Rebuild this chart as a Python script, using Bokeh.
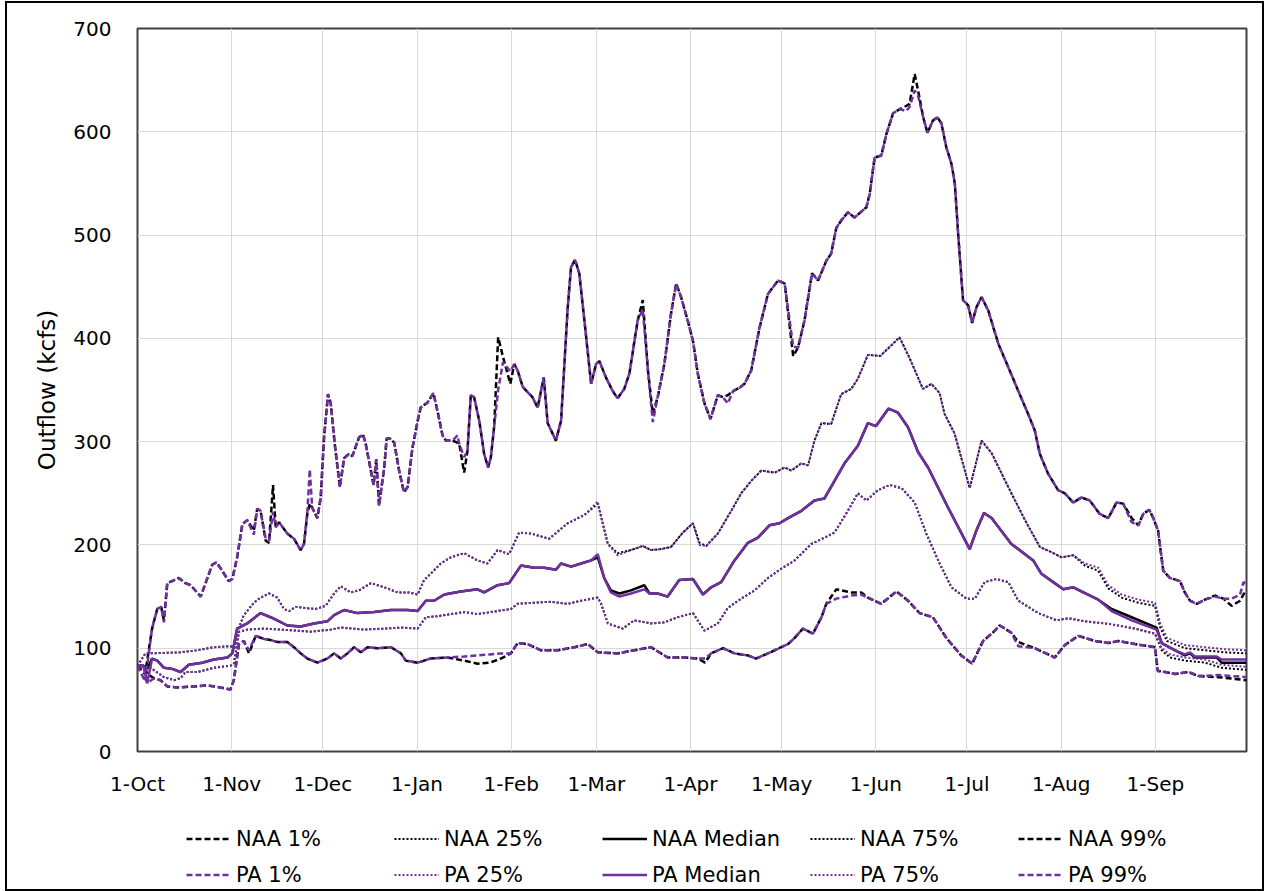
from bokeh.plotting import figure
from bokeh.layouts import column
from bokeh.models import Range1d, FixedTicker, Legend, LegendItem
from bokeh.embed import file_html
from bokeh.resources import INLINE

# ---------------- data (day index from 1-Oct, outflow in kcfs) ----------------
month_ticks = [0, 31, 61, 92, 123, 151, 182, 212, 243, 273, 304, 335]
month_labels = ["1-Oct", "1-Nov", "1-Dec", "1-Jan", "1-Feb", "1-Mar",
                "1-Apr", "1-May", "1-Jun", "1-Jul", "1-Aug", "1-Sep"]
y_ticks = [0, 100, 200, 300, 400, 500, 600, 700]

# 99% (upper envelope)
hi_days = [0, 2.5, 4.8, 6.5, 7.8, 8.7, 9.8, 11.4, 13.6, 15.8, 17.5, 20.8, 22.4, 24.6, 26, 27.9,
           30, 31.2, 32.8, 34.5, 36.1, 38.3, 39.4, 40.5, 42.2, 43.3, 44.6, 45.5, 46.6, 49.3, 51.5,
           53.7, 54.8, 55.9, 56.7, 57.5, 59.2, 60.3, 61.4, 62.7, 63.6, 64.9, 66.6, 68, 69.6, 70.7,
           72.9, 74.2, 75.1, 77.7, 78.6, 79.5, 81.2, 82, 83.1, 84.5, 86.1, 87.7, 88.9, 90.5, 92.2,
           93.2, 95.5, 97.4, 98.7, 100.4, 101.5, 103.7, 105.3, 105.9, 107.5, 108.6, 109.7, 110.8,
           112.5, 114.1, 115.4, 116.3, 117.4, 118.7, 120.3, 122.7, 124, 125.1, 126.8, 128.4, 130,
           131.7, 133.7, 135, 137.7, 139.4, 141.6, 142.7, 144, 145.4, 147.1, 149.3, 150.9, 152,
           154.2, 156.4, 158, 160.2, 161.9, 164.6, 166.3, 168, 169.6, 171.2, 173.4, 175.6, 177.3,
           178.9, 181.1, 182.8, 184.4, 186.6, 188.6, 191, 192.7, 194.3, 196, 198.1, 199.8, 202,
           204.7, 207.5, 210.8, 213, 215.8, 217.4, 219.5, 222, 224, 226.7, 228.3, 230, 231.6,
           233.8, 236, 239.9, 241, 242.6, 244.8, 246.5, 248.7, 250.9, 253, 254.1, 255.8, 256.9,
           258.6, 260, 261.8, 263.3, 264.6, 266.2, 267.9, 269, 270.1, 271.7, 273.4, 274.7, 276.1,
           277.8, 280, 283.3, 286.6, 289.9, 293.1, 295.3, 297, 299.7, 303, 305.2, 308, 310.7,
           313.4, 316.7, 319.5, 322.2, 324.4, 327.2, 329.4, 331, 333, 334.3, 335.9, 337.6, 339.8,
           343.1, 344.7, 346.4, 348.6, 351.3, 354.6, 357.4, 360.1, 362.9, 364, 365]
naa_99 = [83, 75, 119, 138, 140, 127, 163, 165, 168, 163, 161, 150, 163, 181, 183, 175,
          165, 167, 188, 220, 224, 214, 235, 233, 204, 202, 258, 217, 222, 211, 206,
          195, 201, 230, 240, 236, 226, 246, 304, 346, 337, 298, 256, 284, 288, 286,
          304, 307, 298, 258, 283, 238, 275, 303, 303, 299, 272, 251, 256, 294, 320,
          333, 338, 347, 330, 306, 301, 301, 299, 298, 270, 291, 345, 343,
          320, 288, 275, 285, 315, 401, 382, 356, 375, 369, 353, 348, 343,
          333, 362, 318, 301, 320, 430, 469, 476, 463, 417, 356, 375, 378,
          362, 349, 342, 351, 366, 417, 437, 369, 327, 343, 375, 424, 453,
          440, 417, 398, 366, 337, 322, 345, 343, 345, 349, 352, 356, 369,
          410, 443, 456, 453, 383, 391, 417, 463, 456, 475, 482, 507, 514,
          522, 517, 527, 540, 575, 577, 598, 618, 622, 625, 627, 656, 640,
          614, 599, 611, 614, 608, 585, 569, 550, 501, 437, 432, 415, 430,
          440, 427, 395, 372, 349, 327, 311, 288, 269, 253, 250, 241, 246,
          243, 230, 226, 241, 240, 226, 219, 230, 234, 226, 214, 175, 168,
          165, 154, 146, 143, 147, 151, 148, 141, 146, 152, 156]
pa_99 = [83, 68, 119, 138, 140, 125, 163, 165, 168, 163, 161, 150, 163, 181, 183, 175,
         165, 167, 188, 220, 224, 210, 235, 233, 206, 204, 232, 217, 222, 211, 206,
         195, 201, 232, 273, 236, 226, 246, 304, 346, 337, 298, 256, 284, 288, 286,
         304, 307, 298, 258, 283, 238, 275, 303, 303, 299, 272, 251, 256, 294, 320,
         333, 338, 347, 330, 306, 301, 301, 306, 298, 285, 291, 345, 343,
         320, 288, 275, 285, 315, 350, 377, 368, 375, 369, 353, 348, 343,
         333, 362, 318, 301, 320, 430, 469, 476, 463, 417, 356, 375, 378,
         362, 349, 342, 351, 366, 417, 428, 369, 319, 343, 375, 424, 453,
         440, 417, 398, 366, 337, 322, 345, 343, 337, 349, 352, 356, 369,
         410, 443, 456, 453, 392, 391, 417, 463, 456, 475, 482, 507, 514,
         522, 517, 527, 540, 575, 577, 598, 618, 622, 620, 624, 640, 635,
         614, 599, 611, 614, 608, 585, 569, 550, 501, 437, 432, 415, 430,
         440, 427, 395, 372, 349, 327, 311, 288, 269, 253, 250, 241, 246,
         243, 230, 226, 241, 240, 222, 219, 230, 234, 226, 214, 175, 168,
         165, 154, 146, 143, 147, 150, 148, 148, 152, 164, 162]

# 75%
p75_days = [0, 2.6, 4.3, 14.2, 19.7, 25.1, 30.6, 31.7, 33.4, 35, 38.3, 40.5, 43.3, 46, 48.2,
            49.9, 52.1, 54.8, 58.6, 61.9, 64.7, 66.9, 70.2, 72.9, 76.8, 81.2, 85.6, 89.4, 92.2,
            94.3, 96.5, 99.8, 103.1, 107.5, 111.9, 115.2, 118.5, 122.3, 125.6, 129.5, 135.5,
            141.6, 147.1, 151.5, 152.6, 154.8, 158, 162.4, 166.3, 169, 172.3, 175.6, 179.5,
            182.8, 185, 187.2, 191, 195.4, 198.7, 202, 205.3, 209.7, 213, 215.2, 218.5, 220.7,
            222.8, 225.1, 228.3, 231.6, 234.9, 237.1, 240.4, 244.5, 250.8, 254.1, 258.5, 261.3,
            264, 265.6, 268.9, 273.9, 277.8, 281.1, 286.6, 292.1, 297, 300.8, 304.1, 308, 311.8,
            316.2, 319.5, 323.9, 329.4, 334.9, 336.6, 338.8, 344.8, 351.4, 358, 365]
naa_75 = [83, 95, 95, 96, 98, 101, 102, 100, 120, 132, 144, 149, 153, 149, 138,
          136, 140, 139, 138, 141, 153, 160, 154, 156, 163, 159, 154, 154, 152,
          166, 172, 182, 188, 192, 185, 182, 195, 191, 212, 211, 206,
          221, 229, 240, 227, 201, 192, 195, 199, 195, 196, 198, 212,
          221, 202, 199, 211, 233, 250, 262, 272, 270, 275, 272, 279, 277,
          301, 318, 317, 346, 351, 361, 384, 383, 401, 381, 351, 356,
          347, 327, 308, 255, 301, 289, 256, 224, 198, 193, 188, 190, 180,
          175, 158, 149, 144, 141, 120, 107, 100, 98, 96, 95]
pa_75 = [83, 95, 95, 96, 98, 101, 102, 100, 120, 132, 144, 149, 153, 149, 138,
         136, 140, 139, 138, 141, 153, 160, 154, 156, 163, 159, 154, 154, 152,
         166, 172, 182, 188, 192, 185, 182, 195, 191, 212, 211, 206,
         221, 229, 242, 227, 201, 190, 195, 199, 195, 196, 198, 212,
         221, 200, 199, 211, 233, 250, 262, 272, 270, 275, 272, 279, 277,
         301, 318, 317, 346, 351, 361, 384, 383, 401, 381, 351, 356,
         347, 327, 308, 255, 301, 289, 256, 224, 198, 193, 188, 190, 182,
         178, 161, 152, 147, 144, 124, 110, 103, 101, 99, 98]

# Median
med_days = [0, 2, 3.2, 4.8, 6.5, 8.7, 11.4, 14.2, 16.9, 21.3, 25.1, 29.6, 31.2, 32.8, 36.1,
            40.5, 43.8, 46, 49.3, 53.7, 58.1, 62.5, 64.7, 68, 72.4, 77.9, 83.4, 88.9, 92.2,
            94.9, 97.6, 101, 106.4, 111.9, 114.1, 118.5, 122.3, 126.2, 130.6, 133.9, 137.7,
            139.4, 142.7, 146, 149.3, 151.5, 153.6, 155.8, 158.6, 162.4, 166.8, 168.5, 171.2,
            174.5, 178.3, 182.8, 186.1, 188.8, 192.1, 196.5, 200.9, 204.2, 208, 211.3, 214.1,
            218.5, 222.8, 226.1, 229.4, 232.7, 237.1, 240.4, 243, 247.2, 250.3, 253.6, 256.9,
            260.2, 266.8, 273.9, 276.1, 278.6, 281.1, 287.6, 294.8, 297.5, 301.4, 304.7, 308,
            316.2, 320.6, 327.2, 335.4, 337.1, 341.5, 344.7, 346.4, 348, 355.2, 356.8, 365]
naa_med = [83, 83, 80, 90, 88, 81, 80, 77, 84, 86, 89, 91, 95, 119, 124,
           134, 130, 127, 122, 121, 124, 126, 132, 137, 134, 135, 137, 137, 136,
           146, 146, 152, 155, 157, 154, 161, 163, 180, 178, 178, 176,
           182, 179, 182, 185, 188, 168, 156, 153, 156, 161, 153, 153,
           150, 166, 167, 152, 159, 164, 185, 202, 207, 219, 221, 226,
           233, 243, 245, 262, 279, 296, 318, 315, 332, 328, 314, 290,
           275, 236, 196, 214, 231, 226, 201, 185, 172, 164, 157, 159,
           147, 138, 130, 120, 105, 98, 93, 95, 91, 91, 86, 86]
pa_med = [83, 83, 66, 90, 88, 81, 80, 77, 84, 86, 89, 91, 95, 119, 124,
          134, 130, 127, 122, 121, 124, 126, 132, 137, 134, 135, 137, 137, 136,
          146, 146, 152, 155, 157, 154, 161, 163, 180, 178, 178, 176,
          182, 179, 182, 185, 191, 168, 154, 150, 153, 157, 153, 153,
          150, 166, 167, 152, 159, 164, 185, 202, 207, 219, 221, 226,
          233, 243, 245, 262, 279, 296, 318, 315, 332, 328, 314, 290,
          275, 236, 196, 214, 231, 226, 201, 185, 172, 164, 157, 159,
          147, 136, 127, 118, 105, 98, 94, 96, 92, 92, 89, 89]

# 25%
p25_days = [0, 4.3, 8.7, 12, 14.2, 15.8, 19.7, 25.1, 30.6, 31.7, 33.4, 36.1, 41.6, 47.1, 52.6,
            57, 63.6, 66.9, 74.6, 81.2, 86.7, 92.2, 94.9, 98.7, 103.1, 107.5, 111.9, 118.5,
            122.9, 125.1, 130.6, 136.1, 141.6, 146, 151.5, 152.6, 154.8, 159.7, 163.5, 169,
            173.4, 177.8, 182.8, 186.6, 191, 194.3, 198.7, 203.1, 207.5, 211.9, 216.3, 221.8,
            226.1, 229.4, 233.8, 237.1, 239.9, 243.7, 247.6, 251.5, 255.8, 259.6, 264, 267.9,
            272.8, 275.6, 278.8, 282.7, 286.6, 289.9, 296.5, 302.5, 306.4, 311.8, 318.4, 322.8,
            328.3, 334.9, 337.1, 339.8, 344.8, 351.4, 356.8, 365]
naa_25 = [83, 81, 72, 69, 71, 77, 77, 81, 83, 85, 116, 118, 119, 118, 117,
          116, 118, 120, 118, 119, 120, 119, 130, 131, 133, 135, 133, 136,
          138, 143, 144, 145, 143, 146, 149, 143, 124, 119, 127, 124,
          125, 130, 134, 117, 124, 139, 148, 156, 168, 177, 185, 201,
          207, 212, 233, 250, 243, 253, 258, 255, 241, 211, 182, 159,
          148, 148, 164, 167, 164, 146, 134, 127, 129, 126, 124, 122,
          119, 114, 98, 91, 88, 86, 81, 79]
pa_25 = [83, 81, 72, 69, 71, 77, 77, 81, 83, 85, 116, 118, 119, 118, 117,
         116, 118, 120, 118, 119, 120, 119, 130, 131, 133, 135, 133, 136,
         138, 143, 144, 145, 143, 146, 149, 143, 124, 119, 127, 124,
         125, 130, 134, 117, 124, 139, 148, 156, 168, 177, 185, 201,
         207, 212, 233, 250, 243, 253, 258, 255, 241, 211, 182, 159,
         148, 148, 164, 167, 164, 146, 134, 127, 129, 126, 124, 122,
         119, 114, 100, 94, 91, 89, 84, 82]

# 1% (lower envelope)
lo_days = [0, 2, 3.2, 5.4, 7.6, 9.8, 13.1, 18.6, 23, 27.3, 30.6, 31.7, 33.4, 35, 36.7, 38.9,
           41.6, 43.8, 46, 49.3, 51.5, 53.7, 55.9, 59.2, 62.5, 64.7, 66.9, 69.1, 71.3, 73.5,
           75.7, 79, 83.4, 86.7, 88.3, 92.2, 96.5, 102, 107.5, 111.9, 116, 119.6, 122.9, 125.1,
           128.4, 132.8, 138.3, 143.8, 148.2, 151.5, 158, 163.5, 169, 174.5, 180, 184.4, 186.8,
           188.8, 192.7, 196.5, 200.9, 203.6, 207.5, 211.9, 214.1, 216.3, 219, 222.3, 225.1,
           226.7, 230, 234.9, 238.2, 240.4, 244.8, 249.8, 253.6, 257.4, 261.8, 266.2, 271.1,
           274.7, 278.3, 281.1, 283.8, 287.6, 289.9, 295.3, 301.9, 305.2, 309.6, 315.1, 319.5,
           322.8, 328.3, 334.9, 335.8, 338.2, 341.5, 345.9, 349.2, 355.8, 365]
naa_1 = [83, 83, 75, 71, 69, 63, 62, 63, 64, 62, 60, 69, 104, 107, 95, 112,
         109, 108, 106, 106, 101, 95, 90, 86, 90, 95, 90, 95, 101, 96,
         101, 100, 101, 95, 88, 86, 90, 91, 88, 85, 86, 90, 95, 105,
         104, 98, 98, 101, 104, 96, 95, 98, 101, 91, 91, 90, 86,
         95, 100, 95, 93, 90, 95, 101, 104, 110, 119, 114, 130,
         143, 157, 154, 154, 149, 143, 155, 146, 134, 130, 110, 93,
         85, 107, 114, 122, 115, 106, 100, 91, 103, 112, 107, 105,
         107, 104, 101, 78, 77, 75, 77, 73, 72, 69]
pa_1 = [83, 83, 66, 71, 69, 63, 62, 63, 64, 62, 60, 69, 104, 107, 98, 112,
        109, 108, 106, 106, 101, 95, 90, 86, 90, 95, 90, 95, 101, 96,
        101, 100, 101, 95, 88, 86, 90, 91, 92, 93, 94, 95, 95, 105,
        104, 98, 98, 101, 104, 96, 95, 98, 101, 91, 91, 90, 90,
        95, 100, 95, 93, 90, 95, 101, 104, 110, 119, 114, 130,
        143, 148, 151, 152, 149, 143, 155, 146, 134, 130, 110, 93,
        85, 107, 114, 122, 115, 102, 100, 91, 103, 112, 107, 105,
        107, 104, 101, 78, 77, 75, 77, 73, 74, 72]

# ---------------- main figure ----------------
FONT = "DejaVu Sans"
BLACK = "#000000"
PURPLE = "#7030A0"
DASH = "6 3"
DOT = "2 2"

p = figure(frame_width=1109, frame_height=723, min_border_left=130, min_border_top=25,
           min_border_right=16, min_border_bottom=60,
           x_range=Range1d(0, 365), y_range=Range1d(0, 700),
           output_backend="svg", toolbar_location=None)

p.background_fill_color = "white"
p.border_fill_color = "white"
p.outline_line_color = "#404040"
p.outline_line_width = 2

p.xaxis.ticker = FixedTicker(ticks=month_ticks)
p.xaxis.major_label_overrides = {t: lab for t, lab in zip(month_ticks, month_labels)}
p.yaxis.ticker = FixedTicker(ticks=y_ticks)
for ax in (p.xaxis, p.yaxis):
    ax.axis_line_color = None
    ax.major_tick_line_color = None
    ax.minor_tick_line_color = None
    ax.major_tick_out = 0
    ax.major_tick_in = 0
    ax.major_label_text_font = FONT
    ax.major_label_text_font_size = "20px"
    ax.major_label_text_color = "#000000"
p.xaxis.major_label_standoff = 20
p.yaxis.major_label_standoff = 26
p.yaxis.axis_label = "Outflow (kcfs)"
p.yaxis.axis_label_text_font = FONT
p.yaxis.axis_label_text_font_size = "23px"
p.yaxis.axis_label_text_font_style = "normal"
p.yaxis.axis_label_text_color = "#000000"
p.yaxis.axis_label_standoff = 10

p.xgrid.grid_line_color = "#d9d9d9"
p.ygrid.grid_line_color = "#d9d9d9"
p.xgrid.grid_line_width = 1
p.ygrid.grid_line_width = 1

series = [
    ("NAA 1%", lo_days, naa_1, BLACK, DASH, 2.5),
    ("NAA 25%", p25_days, naa_25, BLACK, DOT, 2),
    ("NAA Median", med_days, naa_med, BLACK, "solid", 2.5),
    ("NAA 75%", p75_days, naa_75, BLACK, DOT, 2),
    ("NAA 99%", hi_days, naa_99, BLACK, DASH, 2.5),
    ("PA 1%", lo_days, pa_1, PURPLE, DASH, 2.5),
    ("PA 25%", p25_days, pa_25, PURPLE, DOT, 2),
    ("PA Median", med_days, pa_med, PURPLE, "solid", 2.5),
    ("PA 75%", p75_days, pa_75, PURPLE, DOT, 2),
    ("PA 99%", hi_days, pa_99, PURPLE, DASH, 2.5),
]
for name, xs, ys, col, dash, w in series:
    p.line(xs, ys, line_color=col, line_dash=dash, line_width=w)

# ---------------- legend strip (separate figure below; its ranges lie
# outside the data, so only the legend itself is visible there) ----------------
leg = figure(width=1255, height=78, x_range=Range1d(1000, 1001), y_range=Range1d(1000, 1001),
             x_axis_type=None, y_axis_type=None, min_border=0,
             output_backend="svg", toolbar_location=None)
leg.outline_line_color = None
leg.background_fill_color = "white"
leg.border_fill_color = "white"

items = []
for name, xs, ys, col, dash, w in series:
    r = leg.line(xs, ys, line_color=col, line_dash=dash, line_width=w)
    items.append(LegendItem(label=name, renderers=[r]))

legend = Legend(items=items, orientation="horizontal", ncols=5,
                location=(49, 0), margin=0, padding=0,
                glyph_width=45, glyph_height=29, label_standoff=5, label_width=151,
                spacing=7, label_text_font=FONT, label_text_font_size="21px",
                label_text_color="#000000",
                border_line_color=None, background_fill_alpha=0)
leg.add_layout(legend)

layout = column(p, leg, spacing=0)
layout.margin = (3, 0, 0, 7)
layout.styles = {"outline": "2px solid black"}

open("out.html", "w").write(file_html(layout, INLINE))
